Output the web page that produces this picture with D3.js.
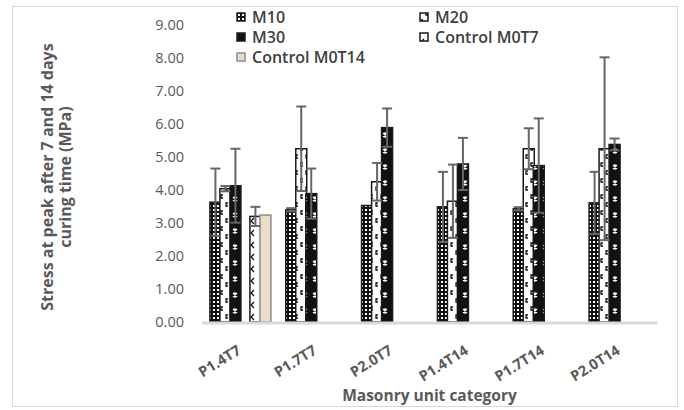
<!DOCTYPE html>
<html>
<head>
<meta charset="utf-8">
<script src="https://cdn.jsdelivr.net/npm/d3@7"></script>
<style>
  body { margin: 0; background: #fff; }
  svg text { font-family: "Open Sans", "Liberation Sans", sans-serif; }
</style>
</head>
<body>
<div id="chart"></div>
<script>
const categories = ["P1.4T7", "P1.7T7", "P2.0T7", "P1.4T14", "P1.7T14", "P2.0T14"];
const seriesNames = ["M10", "M20", "M30", "Control M0T7", "Control M0T14"];
const m10 = [3.63, 3.40, 3.53, 3.49, 3.43, 3.61];
const m20 = [4.04, 5.25, 4.25, 3.66, 5.25, 5.25];
const m30 = [4.13, 3.89, 5.89, 4.79, 4.74, 5.38];
const m0t7 = [3.20, null, null, null, null, null];
const m0t14 = [3.24, null, null, null, null, null];
const m10Err = [1.02, 0.05, 0, 1.06, 0.05, 0.94];
const m20Err = [0.08, 1.28, 0.57, 1.11, 0.62, 2.77];
const m30Err = [1.12, 0.76, 0.58, 0.79, 1.43, 0.18];
const m0t7Err = [0.29, null, null, null, null, null];
const m0t14Err = [0, null, null, null, null, null];
const yTicks = [0, 1, 2, 3, 4, 5, 6, 7, 8, 9];

const values = [m10, m20, m30, m0t7, m0t14];
const errors = [m10Err, m20Err, m30Err, m0t7Err, m0t14Err];
// excel leaves an empty slot between M30 and the control bars
const slots = ["M10", "M20", "M30", "", "Control M0T7", "Control M0T14"];

const w = 684;
const h = 410;
const svg = d3.select("#chart").append("svg").attr("width", w).attr("height", h);

// patterns
const defs = svg.append("defs");
const pat = (id, pw, ph, bg) => {
  const p = defs.append("pattern").attr("id", id).attr("patternUnits", "userSpaceOnUse")
    .attr("width", pw).attr("height", ph);
  p.append("rect").attr("width", pw).attr("height", ph).attr("fill", bg);
  return p;
};
const p1 = pat("p-m10", 4, 4, "#111");
p1.append("rect").attr("x", 1).attr("y", 1).attr("width", 2).attr("height", 2).attr("fill", "#fff");
const p2 = pat("p-m20", 10, 16, "#fff");
p2.append("path").attr("d", "M3,3 h-2 v3 h2 M8,11 h-2 v3 h2").attr("stroke", "#111").attr("stroke-width", 1.3).attr("fill", "none");
const p3 = pat("p-m30", 10, 16, "#111");
p3.append("path").attr("d", "M3,5 l4,4 M7,5 l-4,4 M5,4 v6").attr("stroke", "#fff").attr("stroke-width", 1.2);
const p4 = pat("p-m0t7", 10, 12, "#fff");
p4.append("path").attr("d", "M4,2 l-3,3 l3,3").attr("stroke", "#111").attr("stroke-width", 1.3).attr("fill", "none");
const fills = ["url(#p-m10)", "url(#p-m20)", "url(#p-m30)", "url(#p-m0t7)", "#e8dec6"];
const strokes = ["#1a1a1a", "#1a1a1a", "#1a1a1a", "#1a1a1a", "#8c8c8c"];

// frame
svg.append("rect").attr("x", 12.5).attr("y", 6.5).attr("width", 665).attr("height", 400)
  .attr("fill", "none").attr("stroke", "#d9d9d9");

const x0 = d3.scaleBand().domain(categories).range([202, 657]);
const x1 = d3.scaleBand().domain(slots)
  .range([x0.bandwidth() / 2 - 30, x0.bandwidth() / 2 + 30]);
const y = d3.scaleLinear().domain([0, 9]).range([322, 25]);

// y axis labels
const yAxis = d3.axisLeft(y).tickValues(yTicks).tickFormat(d3.format(".2f")).tickSize(0).tickPadding(18);
const gy = svg.append("g").attr("transform", "translate(202,0)").call(yAxis);
gy.select(".domain").remove();
gy.selectAll("text").attr("fill", "#595959").attr("font-size", 14.5)
  .attr("font-family", "'Open Sans', sans-serif");

// bars
const rows = [];
categories.forEach((c, i) => {
  seriesNames.forEach((s, j) => {
    if (values[j][i] != null) rows.push({ c, s, j, v: values[j][i], e: errors[j][i] });
  });
});

svg.append("g").selectAll("rect").data(rows).join("rect")
  .attr("x", (d) => x0(d.c) + x1(d.s))
  .attr("y", (d) => y(d.v))
  .attr("width", x1.bandwidth() + 1)
  .attr("height", (d) => y(0) - y(d.v))
  .attr("fill", (d) => fills[d.j])
  .attr("stroke", (d) => strokes[d.j])
  .attr("stroke-width", 1.5);

// error bars
const eg = svg.append("g").attr("stroke", "#666").attr("stroke-width", 2);
rows.filter((d) => d.e > 0).forEach((d) => {
  const cx = x0(d.c) + x1(d.s) + x1.bandwidth() / 2 + 0.5;
  eg.append("line").attr("x1", cx).attr("x2", cx).attr("y1", y(d.v + d.e)).attr("y2", y(d.v - d.e));
  [d.v + d.e, d.v - d.e].forEach((v) => {
    eg.append("line").attr("x1", cx - 5).attr("x2", cx + 5).attr("y1", y(v)).attr("y2", y(v));
  });
});

// baseline
svg.append("line").attr("x1", 202).attr("x2", 657).attr("y1", y(0) + 1).attr("y2", y(0) + 1)
  .attr("stroke", "#d9d9d9").attr("stroke-width", 3);

// x labels
svg.append("g").selectAll("text").data(categories).join("text")
  .attr("transform", (d) => `translate(${x0(d) + x0.bandwidth() / 2 + 2},353) rotate(-32)`)
  .attr("text-anchor", "end")
  .attr("font-size", 14.5).attr("font-weight", "bold").attr("fill", "#595959")
  .text((d) => d);

svg.append("text").attr("x", 429.5).attr("y", 401).attr("text-anchor", "middle")
  .attr("font-size", 15.5).attr("font-weight", "bold").attr("fill", "#595959")
  .text("Masonry unit category");

const yt = svg.append("text").attr("transform", "translate(56,177) rotate(-90)")
  .attr("text-anchor", "middle").attr("font-size", 16).attr("font-weight", "bold").attr("fill", "#595959");
yt.append("tspan").attr("x", 0).attr("dy", -3).text("Stress at peak  after 7 and 14 days");
yt.append("tspan").attr("x", 0).attr("dy", 18).text("curing time (MPa)");

// legend
const legendPos = [[237, 17], [420, 17], [237, 37], [420, 37], [237, 57]];
const lg = svg.append("g").selectAll("g").data(seriesNames).join("g")
  .attr("transform", (d, i) => `translate(${legendPos[i][0]},${legendPos[i][1]})`);
lg.append("rect").attr("x", 0).attr("y", -4).attr("width", 8).attr("height", 8)
  .attr("fill", (d, i) => fills[i]).attr("stroke", (d, i) => strokes[i]).attr("stroke-width", 1.5);
lg.append("text").attr("x", 15).attr("y", 6).attr("font-size", 16).attr("font-weight", 600)
  .attr("fill", "#404040").text((d) => d);
</script>
</body>
</html>
